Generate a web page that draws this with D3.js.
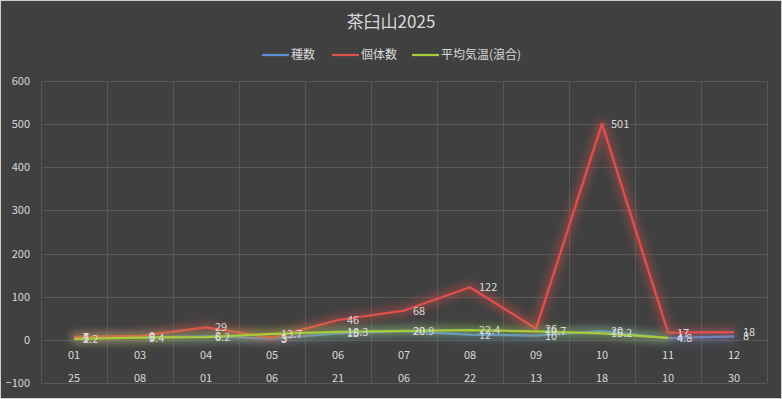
<!DOCTYPE html>
<html>
<head>
<meta charset="utf-8">
<script src="https://cdn.jsdelivr.net/npm/d3@7"></script>
<style>
  body { margin: 0; background: #404040; }
  text { font-family: "Noto Sans CJK JP", "Noto Sans", sans-serif; fill: #d9d9d9; }
</style>
</head>
<body>
<svg id="chart" width="782" height="399"></svg>
<script>
const months = ['01', '03', '04', '05', '06', '07', '08', '09', '10', '11', '12'];
const days = ['25', '08', '01', '06', '21', '06', '22', '13', '18', '10', '30'];
const shusu = [5, 6, 8, 3, 15, 20, 12, 10, 20, 4, 8];
const kotaisu = [7, 9, 29, 5, 46, 68, 122, 26, 501, 17, 18];
const kion = [2.2, 5.4, 6.2, 13.7, 18.3, 20.9, 22.4, 19.7, 15.2, 4.8, null];
const yTicks = [-100, 0, 100, 200, 300, 400, 500, 600];

const series = [
  { name: '種数', values: shusu, color: '#5b8fd4' },
  { name: '個体数', values: kotaisu, color: '#e0504c' },
  { name: '平均気温(浪合)', values: kion, color: '#a6cc3a' }
];

const W = 782, H = 399;
const plotL = 41, plotR = 767, plotT = 81, plotB = 383;

const svg = d3.select('#chart');

// background + border
svg.append('rect').attr('x', 0.5).attr('y', 0.5).attr('width', W - 1).attr('height', H - 1)
  .attr('fill', '#404040').attr('stroke', '#d0d0d0');

// glow filters
const defs = svg.append('defs');
series.forEach((s, i) => {
  const f = defs.append('filter').attr('id', 'glow' + i)
    .attr('filterUnits', 'userSpaceOnUse')
    .attr('x', 0).attr('y', 0).attr('width', W).attr('height', H);
  f.append('feMorphology').attr('in', 'SourceGraphic').attr('operator', 'dilate').attr('radius', 2).attr('result', 'd');
  f.append('feGaussianBlur').attr('in', 'd').attr('stdDeviation', 5).attr('result', 'b');
  f.append('feComponentTransfer').attr('in', 'b').attr('result', 'b2')
    .append('feFuncA').attr('type', 'linear').attr('slope', 0.55);
  const m = f.append('feMerge');
  m.append('feMergeNode').attr('in', 'b2');
  m.append('feMergeNode').attr('in', 'SourceGraphic');
});

const x = d3.scaleBand().domain(d3.range(months.length)).range([plotL, plotR]).padding(0);
const y = d3.scaleLinear().domain([-100, 600]).range([plotB, plotT]);
const cx = i => x(i) + x.bandwidth() / 2;

// gridlines
const grid = svg.append('g').attr('stroke', '#585858').attr('stroke-width', 1);
yTicks.forEach(t => {
  grid.append('line').attr('x1', plotL).attr('x2', plotR)
    .attr('y1', Math.round(y(t)) + 0.5).attr('y2', Math.round(y(t)) + 0.5);
});
d3.range(months.length + 1).forEach(i => {
  const xx = i < months.length ? x(i) : plotR;
  grid.append('line').attr('x1', Math.round(xx) + 0.5).attr('x2', Math.round(xx) + 0.5)
    .attr('y1', plotT).attr('y2', plotB);
});

// y axis labels
const yAxis = svg.append('g').attr('transform', `translate(${plotL - 8},0)`)
  .call(d3.axisLeft(y).tickValues(yTicks).tickSize(0).tickPadding(3));
yAxis.select('.domain').remove();
yAxis.selectAll('text').style('font-size', '11px').attr('fill', '#d9d9d9')
  .style('font-family', '"Noto Sans CJK JP", sans-serif');

// x axis labels (two levels)
const xg = svg.append('g');
xg.selectAll('text.m').data(months).enter().append('text')
  .attr('x', (d, i) => cx(i)).attr('y', 359).attr('text-anchor', 'middle')
  .style('font-size', '11px').text(d => d);
xg.selectAll('text.d').data(days).enter().append('text')
  .attr('x', (d, i) => cx(i)).attr('y', 382).attr('text-anchor', 'middle')
  .style('font-size', '11px').text(d => d);

// lines
const line = d3.line().defined(d => d != null).x((d, i) => cx(i)).y(d => y(d));
series.forEach((s, k) => {
  svg.append('path').datum(s.values)
    .attr('d', line)
    .attr('fill', 'none')
    .attr('stroke', s.color)
    .attr('stroke-width', 2.25)
    .attr('stroke-linejoin', 'round')
    .attr('filter', `url(#glow${k})`);
});

// data labels
series.forEach(s => {
  svg.append('g').selectAll('text').data(s.values.map((v, i) => ({ v, i })).filter(d => d.v != null))
    .enter().append('text')
    .attr('x', d => cx(d.i) + 9)
    .attr('y', d => y(d.v) + 4)
    .style('font-size', '11px')
    .text(d => d.v);
});

// title
svg.append('text').attr('x', W / 2).attr('y', 28).attr('text-anchor', 'middle')
  .style('font-size', '17px').text('茶臼山2025');

// legend
const legendX = [262, 332, 412];
const lg = svg.append('g');
series.forEach((s, i) => {
  lg.append('line').attr('x1', legendX[i]).attr('x2', legendX[i] + 27)
    .attr('y1', 55).attr('y2', 55).attr('stroke', s.color).attr('stroke-width', 2.25);
  lg.append('text').attr('x', legendX[i] + 29).attr('y', 59)
    .style('font-size', '12px').text(s.name);
});
</script>
</body>
</html>
